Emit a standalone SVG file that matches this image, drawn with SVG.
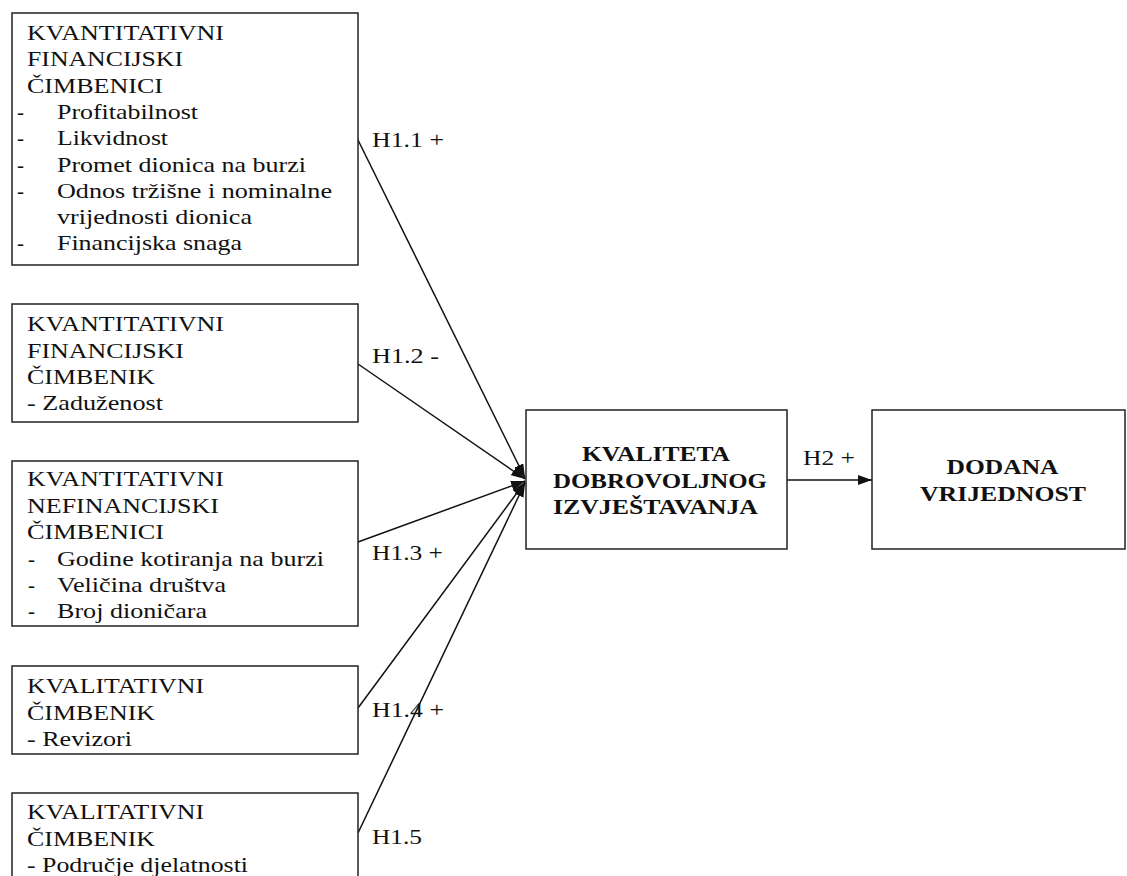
<svg xmlns="http://www.w3.org/2000/svg" width="1127" height="876" viewBox="0 0 1127 876">
<style>
.box{fill:#fff;stroke:#222;stroke-width:1.5}
.t{font-family:"Liberation Serif","Times New Roman",serif;font-size:21px;fill:#111}
.b{font-family:"Liberation Serif","Times New Roman",serif;font-size:21px;font-weight:bold;fill:#111;text-anchor:middle}
.c{fill:none;stroke:#111;stroke-width:1.5}
</style>
<defs>
<marker id="ah" markerUnits="userSpaceOnUse" markerWidth="14" markerHeight="10" refX="14" refY="5" orient="auto">
<path d="M0,0 L14,5 L0,10 z" fill="#111"/>
</marker>
</defs>
<rect width="1127" height="876" fill="#fff"/>

<g id="connectors">
<line class="c" x1="358" y1="140" x2="525" y2="478" marker-end="url(#ah)"/>
<line class="c" x1="358" y1="364" x2="525" y2="479" marker-end="url(#ah)"/>
<line class="c" x1="358" y1="542" x2="525" y2="481" marker-end="url(#ah)"/>
<line class="c" x1="358" y1="708" x2="525" y2="482" marker-end="url(#ah)"/>
<line class="c" x1="358" y1="833" x2="525" y2="483" marker-end="url(#ah)"/>
<line class="c" x1="787" y1="480" x2="872" y2="480" marker-end="url(#ah)"/>
<text class="t" x="372" y="147" textLength="72" lengthAdjust="spacingAndGlyphs">H1.1 +</text>
<text class="t" x="372" y="363" textLength="67" lengthAdjust="spacingAndGlyphs">H1.2 -</text>
<text class="t" x="372" y="560" textLength="71" lengthAdjust="spacingAndGlyphs">H1.3 +</text>
<text class="t" x="372" y="717" textLength="72" lengthAdjust="spacingAndGlyphs">H1.4 +</text>
<text class="t" x="372" y="844" textLength="50" lengthAdjust="spacingAndGlyphs">H1.5</text>
<text class="t" x="803" y="465" textLength="52" lengthAdjust="spacingAndGlyphs">H2 +</text>
</g>

<g id="n1">
<rect class="box" x="12" y="13" width="346" height="252"/>
<text class="t" x="27" y="40" textLength="197" lengthAdjust="spacingAndGlyphs">KVANTITATIVNI</text>
<text class="t" x="27" y="66.3" textLength="156" lengthAdjust="spacingAndGlyphs">FINANCIJSKI</text>
<text class="t" x="27" y="92.6" textLength="136" lengthAdjust="spacingAndGlyphs">ČIMBENICI</text>
<text class="t" x="17" y="118.9">-</text>
<text class="t" x="57" y="118.9" textLength="141" lengthAdjust="spacingAndGlyphs">Profitabilnost</text>
<text class="t" x="17" y="145.2">-</text>
<text class="t" x="57" y="145.2" textLength="111" lengthAdjust="spacingAndGlyphs">Likvidnost</text>
<text class="t" x="17" y="171.5">-</text>
<text class="t" x="57" y="171.5" textLength="249" lengthAdjust="spacingAndGlyphs">Promet dionica na burzi</text>
<text class="t" x="17" y="197.8">-</text>
<text class="t" x="57" y="197.8" textLength="275" lengthAdjust="spacingAndGlyphs">Odnos tržišne i nominalne</text>
<text class="t" x="57" y="224.1" textLength="195" lengthAdjust="spacingAndGlyphs">vrijednosti dionica</text>
<text class="t" x="17" y="250.4">-</text>
<text class="t" x="57" y="250.4" textLength="185" lengthAdjust="spacingAndGlyphs">Financijska snaga</text>
</g>

<g id="n2">
<rect class="box" x="12" y="304" width="346" height="118"/>
<text class="t" x="27" y="331" textLength="197" lengthAdjust="spacingAndGlyphs">KVANTITATIVNI</text>
<text class="t" x="27" y="357.5" textLength="157" lengthAdjust="spacingAndGlyphs">FINANCIJSKI</text>
<text class="t" x="27" y="384" textLength="128" lengthAdjust="spacingAndGlyphs">ČIMBENIK</text>
<text class="t" x="27" y="410" textLength="136" lengthAdjust="spacingAndGlyphs">- Zaduženost</text>
</g>

<g id="n3">
<rect class="box" x="12" y="461" width="346" height="165"/>
<text class="t" x="27" y="486" textLength="197" lengthAdjust="spacingAndGlyphs">KVANTITATIVNI</text>
<text class="t" x="27" y="512.5" textLength="192" lengthAdjust="spacingAndGlyphs">NEFINANCIJSKI</text>
<text class="t" x="27" y="539" textLength="137" lengthAdjust="spacingAndGlyphs">ČIMBENICI</text>
<text class="t" x="28" y="565.5">-</text>
<text class="t" x="57" y="565.5" textLength="267" lengthAdjust="spacingAndGlyphs">Godine kotiranja na burzi</text>
<text class="t" x="28" y="592">-</text>
<text class="t" x="57" y="592" textLength="169" lengthAdjust="spacingAndGlyphs">Veličina društva</text>
<text class="t" x="28" y="618">-</text>
<text class="t" x="57" y="618" textLength="150" lengthAdjust="spacingAndGlyphs">Broj dioničara</text>
</g>

<g id="n4">
<rect class="box" x="12" y="666" width="346" height="88"/>
<text class="t" x="27" y="693" textLength="177" lengthAdjust="spacingAndGlyphs">KVALITATIVNI</text>
<text class="t" x="27" y="719.5" textLength="128" lengthAdjust="spacingAndGlyphs">ČIMBENIK</text>
<text class="t" x="27" y="746" textLength="105" lengthAdjust="spacingAndGlyphs">- Revizori</text>
</g>

<g id="n5">
<rect class="box" x="12" y="793" width="346" height="100"/>
<text class="t" x="27" y="819" textLength="177" lengthAdjust="spacingAndGlyphs">KVALITATIVNI</text>
<text class="t" x="27" y="845.5" textLength="128" lengthAdjust="spacingAndGlyphs">ČIMBENIK</text>
<text class="t" x="27" y="872" textLength="221" lengthAdjust="spacingAndGlyphs">- Područje djelatnosti</text>
</g>

<g id="n6">
<rect class="box" x="526" y="410" width="261" height="139"/>
<text class="b" x="656" y="461" textLength="148" lengthAdjust="spacingAndGlyphs">KVALITETA</text>
<text class="b" x="660" y="488" textLength="214" lengthAdjust="spacingAndGlyphs">DOBROVOLJNOG</text>
<text class="b" x="655.5" y="514" textLength="205" lengthAdjust="spacingAndGlyphs">IZVJEŠTAVANJA</text>
</g>

<g id="n7">
<rect class="box" x="872" y="410" width="253" height="139"/>
<text class="b" x="1002.5" y="474" textLength="112" lengthAdjust="spacingAndGlyphs">DODANA</text>
<text class="b" x="1003" y="501" textLength="166" lengthAdjust="spacingAndGlyphs">VRIJEDNOST</text>
</g>
</svg>
